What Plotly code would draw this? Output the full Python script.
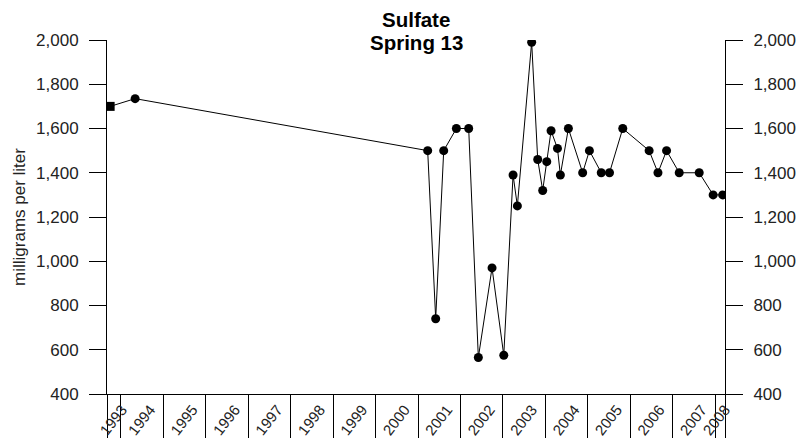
import plotly.graph_objects as go
import pandas as pd

# ---- data ----
sample_dates = [
    "1993-09-30", "1994-05-03",
    "2001-03-25", "2001-06-02", "2001-08-10", "2001-11-27",
    "2002-03-13", "2002-06-04", "2002-09-30",
    "2003-01-09", "2003-03-30", "2003-05-06", "2003-09-06", "2003-10-28", "2003-12-10",
    "2004-01-14", "2004-02-20", "2004-04-15", "2004-05-10", "2004-07-18", "2004-11-18",
    "2005-01-15", "2005-04-27", "2005-07-07", "2005-10-29",
    "2006-06-13", "2006-08-28", "2006-11-10",
    "2007-02-27", "2007-08-18", "2007-12-16",
    "2008-03-07",
]
sulfate_mg_l = [
    1700, 1735,
    1500, 740, 1500, 1600,
    1600, 565, 970,
    575, 1390, 1250, 1990, 1460, 1320,
    1450, 1590, 1510, 1390, 1600, 1400,
    1500, 1400, 1400, 1600,
    1500, 1400, 1500,
    1400, 1400, 1300,
    1300,
]
marker_symbols = ["square"] + ["circle"] * (len(sample_dates) - 1)

title_lines = ["Sulfate", "Spring 13"]
y_title = "milligrams per liter"
year_labels = [str(y) for y in range(1993, 2009)]
x_range = ["1993-09-03", "2008-03-27"]
y_range = [400, 2000]
y_ticks = [400, 600, 800, 1000, 1200, 1400, 1600, 1800, 2000]

# ---- layout constants ----
W, H = 797, 438
ML, MR, MT, MB = 107, 72, 40, 43.5
LABEL_SHIFT_PX = 8  # rotated labels are anchored at their end; nudge right

# ---- derived axis helpers ----
start = pd.Timestamp(x_range[0])
end = pd.Timestamp(x_range[1])
year_bounds = [pd.Timestamp(f"{y}-01-01") for y in range(1994, 2009)]
sep_vals = [start] + year_bounds + [end]

px_per_time = (W - ML - MR) / (end - start).total_seconds()
shift = pd.Timedelta(seconds=LABEL_SHIFT_PX / px_per_time)

label_vals = []
for y in year_labels:
    a = max(pd.Timestamp(f"{y}-01-01"), start)
    b = min(pd.Timestamp(f"{int(y)+1}-01-01"), end)
    label_vals.append(min(a + (b - a) / 2 + shift, end - pd.Timedelta(days=1)))

FONT = "Liberation Sans, Arial, sans-serif"
TXT = "#222222"

fig = go.Figure()
fig.add_trace(go.Scatter(
    x=sample_dates, y=sulfate_mg_l, mode="lines+markers",
    line=dict(color="black", width=1),
    marker=dict(color="black", size=9, symbol=marker_symbols),
    showlegend=False,
))
# invisible trace to activate secondary axes
fig.add_trace(go.Scatter(
    x=sample_dates[:1], y=sulfate_mg_l[:1], xaxis="x2", yaxis="y2",
    mode="markers", marker=dict(opacity=0), showlegend=False, hoverinfo="skip",
))

for txt, ys in zip(title_lines, [21, -2]):
    fig.add_annotation(
        text=f"<b>{txt}</b>", xref="paper", yref="paper", x=0.5, y=1,
        xanchor="center", yanchor="middle", yshift=ys, showarrow=False,
        font=dict(family=FONT, size=20.5, color="black"),
    )

fig.update_layout(
    width=W, height=H,
    margin=dict(l=ML, r=MR, t=MT, b=MB, pad=0),
    paper_bgcolor="white", plot_bgcolor="white",
    font=dict(family=FONT, size=17, color=TXT),
    xaxis=dict(
        type="date", range=x_range, showgrid=False, zeroline=False,
        showline=True, linecolor="black", linewidth=1,
        tickmode="array", tickvals=sep_vals, ticktext=[""] * len(sep_vals),
        ticks="outside", ticklen=44, tickcolor="black", tickwidth=1,
        showticklabels=False, automargin=False,
    ),
    xaxis2=dict(
        type="date", range=x_range, overlaying="x", anchor="y", side="bottom",
        showgrid=False, zeroline=False, showline=False,
        tickmode="array", tickvals=label_vals, ticktext=year_labels,
        ticks="", tickangle=-52, automargin=False, ticklabelstandoff=3,
        tickfont=dict(family=FONT, size=15, color=TXT),
    ),
    yaxis=dict(
        range=y_range, showgrid=False, zeroline=False,
        showline=True, linecolor="black", linewidth=1,
        tickmode="array", tickvals=y_ticks, ticks="outside", ticklen=17,
        tickcolor="black", tickwidth=1, tickformat=",d", automargin=False,
        ticklabelstandoff=7,
        title=dict(text=y_title, font=dict(family=FONT, size=17, color=TXT), standoff=6),
    ),
    yaxis2=dict(
        range=y_range, overlaying="y", side="right", anchor="x",
        showgrid=False, zeroline=False,
        showline=True, linecolor="black", linewidth=1,
        tickmode="array", tickvals=y_ticks, ticks="outside", ticklen=17,
        tickcolor="black", tickwidth=1, tickformat=",d", automargin=False,
        ticklabelstandoff=7,
    ),
)

fig.write_html(
    "out.html",
    config={"displayModeBar": False},
    post_script="document.body.style.margin='0';document.body.style.overflow='hidden';",
)
